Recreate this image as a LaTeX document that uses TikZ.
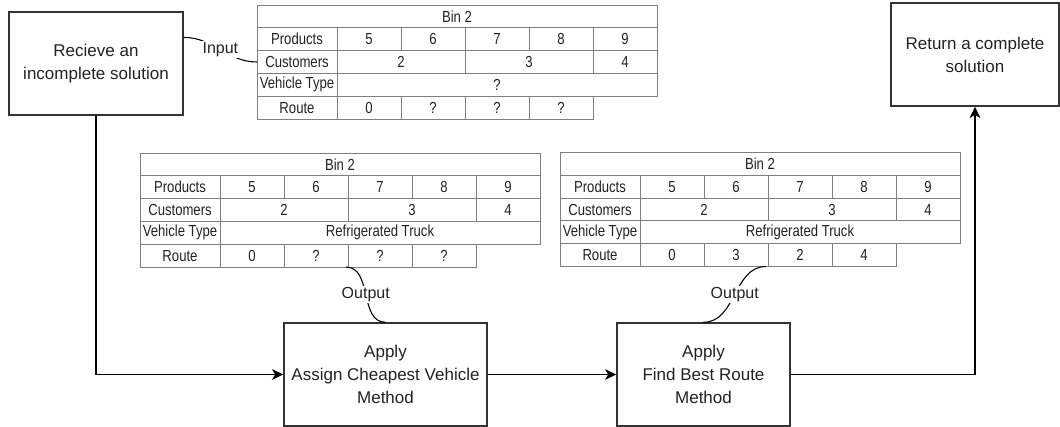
\documentclass[tikz,border=0pt]{standalone}
\usepackage{fontspec}
\setmainfont{Liberation Sans}
\newfontfamily\cellfont{Liberation Sans}[FakeStretch=0.82]
\usetikzlibrary{arrows.meta,calc}

\definecolor{boxgray}{HTML}{333333}
\definecolor{linegray}{HTML}{7F7F7F}
\definecolor{inkgray}{HTML}{222222}

\tikzset{
  procbox/.style={draw=boxgray, line width=1.1pt, align=center, text=inkgray,
    inner sep=2pt, font=\fontsize{12.75pt}{17.25pt}\selectfont},
  flow/.style={draw=black, line width=1.1pt, -{Stealth[length=8.5pt,width=8pt,inset=2.5pt]}},
  iolink/.style={draw=black, line width=0.8pt},
  iolabel/.style={fill=white, inner sep=1pt, text=inkgray, font=\fontsize{12pt}{14pt}\selectfont},
  tableline/.style={draw=linegray, line width=0.7pt},
  cellt/.style={text=inkgray, inner sep=0pt, font=\cellfont\fontsize{12pt}{13pt}\selectfont}
}

% one bin table: name, top left corner, vehicle type, route stops
\newcommand{\bintable}[6]{
  \begin{scope}[shift={#2}]
    % grid
    \draw[tableline] (0,0) rectangle (400,4*22.8);
    \draw[tableline] (0,4*22.8) rectangle (336,5*22.8);
    \foreach \r in {1,2,3}
      \draw[tableline] (0,\r*22.8) -- (400,\r*22.8);
    \draw[tableline] (80,22.8) -- (80,5*22.8);
    \foreach \c in {144,272}{
      \draw[tableline] (\c,22.8) -- (\c,2*22.8);
      \draw[tableline] (\c,4*22.8) -- (\c,5*22.8);}
    \foreach \c in {208,336}{
      \draw[tableline] (\c,22.8) -- (\c,3*22.8);
      \draw[tableline] (\c,4*22.8) -- (\c,5*22.8);}
    % texts
    \node[cellt] at (200,0.5*22.8) {Bin 2};
    \node[cellt] at (40,1.5*22.8) {Products};
    \foreach \v [count=\i] in {5,...,9}
      \node[cellt] at (48+64*\i,1.5*22.8) {\v};
    \node[cellt] at (40,2.5*22.8) {Customers};
    \node[cellt] at (144,2.5*22.8) {2};
    \node[cellt] at (272,2.5*22.8) {3};
    \node[cellt] at (368,2.5*22.8) {4};
    \node[cellt] at (40,3.5*22.8) {Vehicle Type};
    \node[cellt] at (240,3.5*22.8) {#3};
    \node[cellt] at (40,4.5*22.8) {Route};
    \foreach \v [count=\i] in {0,#4,#5,#6}
      \node[cellt] at (48+64*\i,4.5*22.8) {\v};
    % link points
    \coordinate (#1-in) at (0,2.5*22.8);
    \coordinate (#1-out) at (206,5*22.8);
  \end{scope}}

\begin{document}
\begin{tikzpicture}[x=0.75pt,y=-0.75pt]
  \useasboundingbox (0,0) rectangle (1060,427);

  % process boxes
  \node[procbox, minimum width=130.5pt, minimum height=77.25pt] (recv) at (96,63.5) {Recieve an\\incomplete solution};
  \node[procbox, minimum width=126pt, minimum height=77.25pt] (ret) at (975,54.5) {Return a complete\\solution};
  \node[procbox, minimum width=152.25pt, minimum height=77.25pt] (assign) at (385.5,374.5) {Apply\\Assign Cheapest Vehicle\\Method};
  \node[procbox, minimum width=129.75pt, minimum height=77.25pt] (route) at (703.5,374.5) {Apply\\Find Best Route\\Method};

  % bin tables
  \bintable{binin}{(257,5)}{?}{?}{?}{?}
  \bintable{binveh}{(140,153)}{Refrigerated Truck}{?}{?}{?}
  \bintable{binroute}{(560,152.5)}{Refrigerated Truck}{3}{2}{4}

  % main flow
  \draw[flow] (recv.south) |- (assign.west);
  \draw[flow] (assign.east) -- (route.west);
  \draw[flow] (route.east) -| (ret.south);

  % input and output links
  \coordinate (recvout) at ($(recv.north east)!0.25!(recv.south east)$);
  \draw[iolink] (recvout) to[out=0,in=180] node[iolabel] {Input} (binin-in);
  \draw[iolink] (binveh-out) to[out=0,in=180] node[iolabel] {Output} (assign.north);
  \draw[iolink] (binroute-out) to[out=180,in=0] node[iolabel] {Output} (route.north);
\end{tikzpicture}
\end{document}
